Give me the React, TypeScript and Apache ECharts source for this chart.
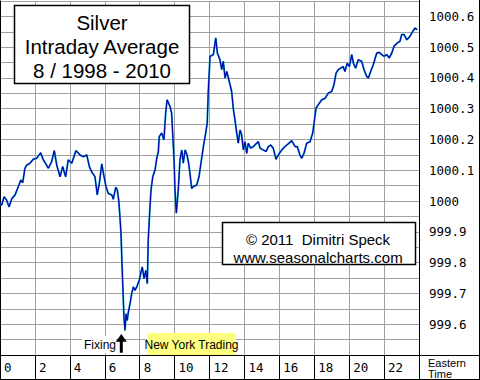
import React, { useEffect, useRef } from "react";
import * as echarts from "echarts";

// Eastern time (hours) and silver intraday average (index, 1000 = start)
const hours = [
  0.0, 0.1, 0.23, 0.38, 0.52, 0.67, 0.86, 1.05, 1.19, 1.3, 1.43, 1.53, 1.72, 1.91, 2.1, 2.33, 2.48, 2.77, 2.96, 3.11,
  3.25, 3.44, 3.59, 3.76, 3.91, 4.11, 4.35, 4.58, 4.77, 4.97, 5.12, 5.25, 5.44, 5.57, 5.69, 5.83, 5.96, 6.07, 6.2, 6.4,
  6.49, 6.63, 6.72, 6.8, 6.87, 6.93, 6.99, 7.05, 7.1, 7.16, 7.22, 7.29, 7.35, 7.45, 7.54, 7.64, 7.73, 7.83, 7.98, 8.06,
  8.15, 8.25, 8.35, 8.44, 8.49, 8.59, 8.65, 8.75, 8.88, 8.98, 9.07, 9.12, 9.26, 9.39, 9.49, 9.57, 9.74, 9.83, 9.89, 9.97,
  10.02, 10.1, 10.21, 10.31, 10.41, 10.5, 10.6, 10.69, 10.79, 10.88, 10.98, 11.07, 11.27, 11.4, 11.51, 11.65, 11.78, 11.87, 11.93, 12.03,
  12.22, 12.36, 12.45, 12.6, 12.7, 12.79, 12.89, 12.99, 13.13, 13.27, 13.36, 13.46, 13.56, 13.65, 13.75, 13.84, 13.94, 14.03, 14.13, 14.22,
  14.36, 14.51, 14.7, 14.8, 14.89, 15.08, 15.24, 15.37, 15.51, 15.65, 15.81, 15.94, 16.14, 16.32, 16.51, 16.71, 16.9, 17.03, 17.18, 17.28,
  17.41, 17.57, 17.76, 17.91, 17.99, 18.1, 18.23, 18.43, 18.62, 18.81, 19.0, 19.13, 19.25, 19.38, 19.51, 19.66, 19.76, 19.89, 20.01, 20.15,
  20.24, 20.37, 20.52, 20.72, 20.85, 21.0, 21.1, 21.23, 21.38, 21.58, 21.73, 21.86, 22.0, 22.15, 22.3, 22.44, 22.57, 22.76, 22.91, 23.01,
  23.14, 23.3, 23.48, 23.64, 23.77, 23.9,
];
const values = [
  999.993, 999.987, 1000.014, 1000.003, 999.981, 1000.007, 1000.02, 1000.047, 1000.068, 1000.06, 1000.107, 1000.117, 1000.123, 1000.136, 1000.139, 1000.157, 1000.134, 1000.107, 1000.128, 1000.164,
  1000.117, 1000.079, 1000.112, 1000.079, 1000.134, 1000.123, 1000.164, 1000.15, 1000.144, 1000.15, 1000.112, 1000.095, 1000.079, 1000.02, 1000.058, 1000.121, 1000.079, 1000.047, 1000.025, 1000.02,
  1000.006, 1000.045, 1000.036, 1000.003, 999.949, 999.895, 999.792, 999.699, 999.623, 999.58, 999.634, 999.612, 999.639, 999.667, 999.699, 999.721, 999.71, 999.721, 999.743, 999.765,
  999.786, 999.748, 999.775, 999.732, 999.873, 999.981, 1000.036, 1000.079, 1000.101, 1000.139, 1000.161, 1000.209, 1000.221, 1000.199, 1000.286, 1000.329, 1000.307, 1000.286, 1000.221, 1000.134,
  1000.041, 999.961, 1000.036, 1000.134, 1000.166, 1000.123, 1000.166, 1000.155, 1000.128, 1000.09, 1000.041, 1000.047, 1000.052, 1000.079, 1000.123, 1000.177, 1000.221, 1000.253, 1000.356, 1000.47,
  1000.476, 1000.53, 1000.481, 1000.459, 1000.427, 1000.454, 1000.4, 1000.421, 1000.389, 1000.356, 1000.302, 1000.264, 1000.221, 1000.188, 1000.231, 1000.215, 1000.166, 1000.193, 1000.155, 1000.188,
  1000.172, 1000.177, 1000.188, 1000.193, 1000.172, 1000.166, 1000.161, 1000.177, 1000.182, 1000.172, 1000.136, 1000.15, 1000.166, 1000.177, 1000.186, 1000.196, 1000.177, 1000.177, 1000.15, 1000.139,
  1000.155, 1000.188, 1000.193, 1000.221, 1000.253, 1000.302, 1000.313, 1000.329, 1000.334, 1000.351, 1000.356, 1000.378, 1000.416, 1000.427, 1000.432, 1000.437, 1000.421, 1000.448, 1000.437, 1000.476,
  1000.448, 1000.432, 1000.459, 1000.454, 1000.427, 1000.405, 1000.4, 1000.421, 1000.443, 1000.481, 1000.483, 1000.476, 1000.47, 1000.476, 1000.465, 1000.481, 1000.503, 1000.514, 1000.519, 1000.541,
  1000.541, 1000.524, 1000.535, 1000.551, 1000.562, 1000.557,
];

const titleLines = ["Silver", "Intraday Average", "8 / 1998 - 2010"];
const creditLines = ["\u00a9 2011  Dimitri Speck", "www.seasonalcharts.com"];
const unitLines = ["Eastern", "Time"];

const Y_MIN = 999.5;
const Y_MAX = 1000.65;
const Y_STEP = 0.05;
const X_MIN = 0;
const X_MAX = 24;
const X_STEP = 2;

export default function App() {
  const ref = useRef<HTMLDivElement>(null);

  useEffect(() => {
    if (!ref.current) return;
    const chart = echarts.init(ref.current, undefined, { renderer: "svg" });
    const data = hours.map((h, i) => [h, values[i]]);
    const sans = "Liberation Sans, Arial, sans-serif";
    const mono = "DejaVu Sans Mono, monospace";

    chart.setOption({
      animation: false,
      backgroundColor: "#ffffff",
      grid: { left: 0, right: 61, top: 1, bottom: 25, containLabel: false },
      xAxis: {
        type: "value",
        min: X_MIN,
        max: X_MAX,
        interval: X_STEP,
        axisLine: { show: true, lineStyle: { color: "#000000", width: 1 } },
        axisTick: { show: true, length: 24, lineStyle: { color: "#000000", width: 1 } },
        splitLine: { show: true, lineStyle: { color: "#a0a0a0", width: 1 } },
        axisLabel: {
          formatter: (v: number) => (v >= X_MAX ? "" : String(v)),
          align: "left",
          verticalAlign: "top",
          margin: 6,
          padding: [0, 0, 0, 4],
          color: "#000000",
          fontFamily: mono,
          fontSize: 12.5,
          showMaxLabel: false,
        },
      },
      yAxis: {
        type: "value",
        position: "right",
        min: Y_MIN,
        max: Y_MAX,
        interval: Y_STEP,
        axisLine: { show: true, lineStyle: { color: "#000000", width: 1 } },
        axisTick: { show: false },
        splitLine: { show: true, lineStyle: { color: "#a0a0a0", width: 1 } },
        axisLabel: {
          showMinLabel: false,
          showMaxLabel: false,
          margin: 10,
          color: "#000000",
          fontFamily: mono,
          fontSize: 12.5,
          formatter: (v: number) => {
            const r = Math.round(v * 100);
            if (r % 10 !== 0 || r < 99960) return "";
            const t = r / 100;
            return t === 1000 ? "1000" : t.toFixed(1);
          },
        },
      },
      series: [
        {
          type: "line",
          data,
          showSymbol: false,
          lineStyle: { color: "#1aa0d0", width: 1.9 },
          z: 2,
        },
        {
          type: "line",
          data,
          showSymbol: false,
          lineStyle: { color: "#0000a8", width: 1.1 },
          z: 3,
        },
      ],
      graphic: [
        // frame
        { type: "line", shape: { x1: 0, y1: 355.5, x2: 480, y2: 355.5 }, style: { stroke: "#000", lineWidth: 1 }, z: 10 },
        { type: "line", shape: { x1: 0, y1: 379.5, x2: 480, y2: 379.5 }, style: { stroke: "#000", lineWidth: 1 }, z: 10 },
        { type: "line", shape: { x1: 479.5, y1: 0, x2: 479.5, y2: 380 }, style: { stroke: "#000", lineWidth: 1 }, z: 10 },
        { type: "line", shape: { x1: 419.5, y1: 0, x2: 419.5, y2: 380 }, style: { stroke: "#000", lineWidth: 1 }, z: 10 },
        { type: "line", shape: { x1: 0.5, y1: 355, x2: 0.5, y2: 380 }, style: { stroke: "#000", lineWidth: 1 }, z: 10 },
        ...unitLines.map((t, i) => ({
          type: "text",
          x: 428,
          y: 362.5 + i * 11.5,
          style: { text: t, fontFamily: sans, fontSize: 11, fill: "#000", verticalAlign: "middle" },
          z: 10,
        })),
        // title box
        {
          type: "rect",
          shape: { x: 14.5, y: 5.5, width: 175, height: 78 },
          style: { fill: "#ffffff", stroke: "#000000", lineWidth: 1.5 },
          z: 20,
        },
        ...titleLines.map((t, i) => ({
          type: "text",
          x: 102,
          y: 22 + i * 24,
          style: {
            text: t,
            fontFamily: sans,
            fontSize: 20.5,
            fill: "#000",
            align: "center",
            verticalAlign: "middle",
          },
          z: 21,
        })),
        // credit box
        {
          type: "rect",
          shape: { x: 222.5, y: 222.5, width: 193, height: 42 },
          style: { fill: "#ffffff", stroke: "#000000", lineWidth: 1.5 },
          z: 20,
        },
        ...creditLines.map((t, i) => ({
          type: "text",
          x: 318,
          y: 239 + i * 18,
          style: {
            text: t,
            fontFamily: sans,
            fontSize: 15,
            fill: "#000",
            align: "center",
            verticalAlign: "middle",
          },
          z: 21,
        })),
        // Fixing annotation
        {
          type: "rect",
          shape: { x: 82, y: 336, width: 34, height: 17 },
          style: { fill: "#ffffff" },
          z: 20,
        },
        {
          type: "text",
          x: 84,
          y: 344.5,
          style: { text: "Fixing", fontFamily: sans, fontSize: 12, fill: "#000", verticalAlign: "middle" },
          z: 21,
        },
        {
          type: "polygon",
          shape: {
            points: [
              [121.3, 334],
              [115.8, 341.7],
              [119.8, 341.7],
              [119.8, 352.7],
              [122.8, 352.7],
              [122.8, 341.7],
              [126.8, 341.7],
            ],
          },
          style: { fill: "#000000" },
          z: 21,
        },
        // New York Trading
        {
          type: "rect",
          shape: { x: 147, y: 333, width: 89, height: 22 },
          style: { fill: "#ffff80" },
          z: 20,
        },
        {
          type: "text",
          x: 191.5,
          y: 344.5,
          style: {
            text: "New York Trading",
            fontFamily: sans,
            fontSize: 12,
            fill: "#000",
            align: "center",
            verticalAlign: "middle",
          },
          z: 21,
        },
      ],
    });

    return () => chart.dispose();
  }, []);

  return (
    <div
      ref={ref}
      style={{ position: "absolute", left: 0, top: 0, width: 480, height: 380, background: "#fff" }}
    />
  );
}
